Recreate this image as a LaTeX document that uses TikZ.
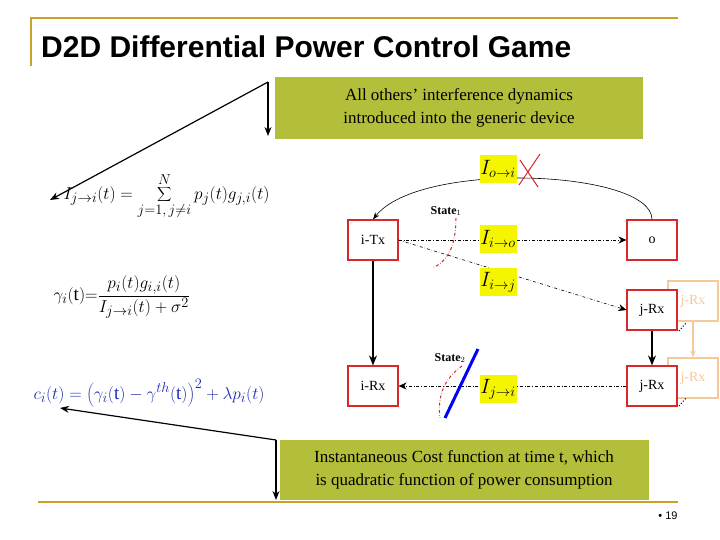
\documentclass[tikz,border=0pt]{standalone}
\usepackage{fontspec}
\setmainfont{Liberation Serif}
\newfontfamily\sansf{Liberation Sans}
\usetikzlibrary{arrows.meta}
\definecolor{gold}{HTML}{C9A227}
\definecolor{olive}{HTML}{B3BE3A}
\definecolor{boxred}{HTML}{D9282A}
\definecolor{ylw}{HTML}{F5F500}
\definecolor{fade}{HTML}{F6C99A}
\definecolor{eqblue}{HTML}{1F2BB5}
\begin{document}
\begin{tikzpicture}[x=1pt,y=-1pt,
 dev/.style={draw=boxred,line width=1.2pt,fill=white,minimum width=50pt,minimum height=40pt,inner sep=0pt,font=\fontsize{14}{16}\selectfont},
 fdev/.style={draw=fade,line width=1.2pt,minimum width=50pt,minimum height=40pt,inner sep=0pt,text=fade,font=\fontsize{14}{16}\selectfont},
 lab/.style={fill=ylw,minimum width=37pt,minimum height=28pt,inner sep=0pt,font=\fontsize{22}{24}\selectfont},
 call/.style={fill=olive,inner sep=2pt,align=center,font=\fontsize{17}{23}\selectfont},
 eq/.style={anchor=west,font=\fontsize{19}{22}\selectfont},
 ptr/.style={-{Stealth[length=9pt,width=7pt]},line width=1.2pt},
 intf/.style={dash dot,-{Stealth[length=8pt,width=7pt]},line width=0.6pt}]
\useasboundingbox (0,0) rectangle (720,540);
% frame
\draw[gold,line width=2pt] (30,18) -- (678,18);
\draw[gold,line width=2pt] (31,18) -- (31,66);
\draw[gold,line width=2pt] (38,502) -- (678,502);
\node[font=\sansf\bfseries\fontsize{30}{34}\selectfont,anchor=west,inner sep=0pt] (title) at (41,47) {D2D Differential Power Control Game};
\node[font=\sansf\fontsize{11}{13}\selectfont] (pg) at (668,516) {\textbullet\ 19};
% callouts
\node[call,minimum width=368pt,minimum height=62pt] (top) at (459,108) {All others' interference dynamics\\introduced into the generic device};
\node[call,minimum width=369pt,minimum height=60pt] (bot) at (464,470) {Instantaneous Cost function at time t, which\\is quadratic function of power consumption};
\coordinate (tk) at (268,82);
\coordinate (tkb) at (268,136);
\coordinate (bk) at (276,440);
\coordinate (bkb) at (276,500);
% equations
\node[eq] (e1) at (60,196) {$I_{j\to i}(t)=\displaystyle\sum_{j=1,\,j\neq i}^{N} p_j(t)g_{j,i}(t)$};
\node[eq] (e2) at (50,297) {$\gamma_i(\mathrm{t}){=}\displaystyle\frac{p_i(t)g_{i,i}(t)}{I_{j\to i}(t)+\sigma^2}$};
\node[eq,text=eqblue] (e3) at (30,393) {$c_i(t)=\biggl(\gamma_i(\mathrm{t})-\gamma^{th}(\mathrm{t})\biggr)^2+\lambda p_i(t)$};
\draw[ptr] (tk) -- (tkb);
\draw[ptr] (tk) -- (50,200);
\draw[ptr] (bk) -- (bkb);
\draw[ptr] (bk) -- (60,408);
% devices
\node[fdev] (fj1) at (693,301) {j-Rx};
\node[fdev] (fj2) at (693,378) {j-Rx};
\draw[fade,line width=1.2pt,-{Stealth[length=7pt]}] (fj1) -- (fj2);
\node[dev] (itx) at (373,240) {i-Tx};
\node[dev] (o) at (652,240) {o};
\node[dev] (jrx1) at (652,310) {j-Rx};
\node[dev] (irx) at (373,386) {i-Rx};
\node[dev] (jrx2) at (652,386) {j-Rx};
\draw[line width=1pt,dotted] (679,331) -- (686,323);
\draw[line width=1pt,dotted] (679,406) -- (686,398);
% connectors
\draw[-{Stealth[length=7pt]},line width=0.6pt] (o.north) .. controls (652,170) and (420,160) .. (itx.north);
\draw[-{Stealth[length=10pt,width=8pt]},line width=1.2pt] (itx) -- (irx);
\draw[-{Stealth[length=10pt,width=8pt]},line width=1.2pt] (jrx1) -- (jrx2);
\draw[intf] (itx.east) -- (o.west);
\draw[intf] (itx.east) -- (jrx1.west);
\draw[intf] (jrx2.west) -- (irx.east);
% labels
\node[lab] (loi) at (498,169) {$I_{o\to i}$};
\node[lab] (lio) at (498,239) {$I_{i\to o}$};
\node[lab] (lij) at (498,282) {$I_{i\to j}$};
\node[lab] (lji) at (498,389) {$I_{j\to i}$};
\draw[boxred,line width=1pt] (520,160) -- (538,187);
\draw[boxred,line width=1pt] (519,185) -- (540,154);
% states
\node[font=\bfseries\fontsize{12}{14}\selectfont] (s1) at (446,211) {State$_1$};
\node[font=\bfseries\fontsize{12}{14}\selectfont] (s2) at (450,358) {State$_2$};
\draw[boxred,dash dot,line width=1pt] (456,218) .. controls (456,245) and (448,262) .. (432,268);
\draw[boxred,dash dot,line width=1pt] (462,366) .. controls (445,378) and (437,395) .. (440,418);
\draw[blue,line width=3pt] (478,349) -- (445,418);
\end{tikzpicture}
\end{document}
